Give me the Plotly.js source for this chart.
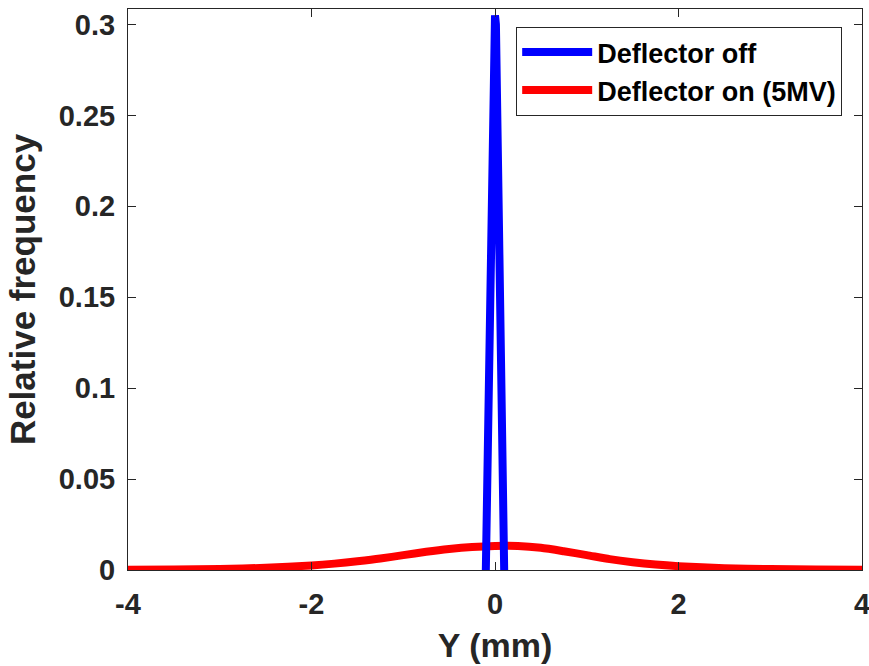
<!DOCTYPE html>
<html>
<head>
<meta charset="utf-8">
<script src="https://cdn.plot.ly/plotly-3.0.1.min.js"></script>
<style>html,body{margin:0;padding:0;background:#fff;}#chart{width:869px;height:666px;}</style>
</head>
<body>
<div id="chart"></div>
<script>
// Deflector off (narrow spike)
const offX = [-0.1, -0.01, 0.0, 0.01, 0.1];
const offY = [0.0, 0.300, 0.305, 0.300, 0.0];

// Deflector on (5MV) (broad distribution)
const onX = [-4, -3.5, -3, -2.5, -2, -1.75, -1.5, -1.25, -1, -0.75, -0.5, -0.25, 0, 0.25, 0.5, 0.75, 1, 1.25, 1.5, 1.75, 2, 2.5, 3, 3.5, 4];
const onY = [0.0002, 0.0003, 0.0005, 0.0012, 0.0025, 0.0035, 0.0048, 0.0063, 0.0082, 0.0100, 0.0115, 0.0126, 0.0132, 0.0132, 0.0122, 0.0103, 0.0082, 0.0060, 0.0043, 0.0030, 0.0021, 0.0010, 0.0005, 0.0003, 0.0002];

const xTicks = [-4, -2, 0, 2, 4];
const yTicks = [0, 0.05, 0.1, 0.15, 0.2, 0.25, 0.3];
const yTickText = ['0', '0.05', '0.1', '0.15', '0.2', '0.25', '0.3'];

const FONT = 'Liberation Sans, Arial, sans-serif';
const AX = '#262626';

const traces = [
  {x: onX, y: onY, mode: 'lines', name: 'Deflector on (5MV)',
   line: {color: '#ff0000', width: 8, shape: 'spline', smoothing: 0.6}},
  {x: offX, y: offY, mode: 'lines', name: 'Deflector off',
   line: {color: '#0000ff', width: 8}}
];

const axisCommon = {
  showgrid: false, zeroline: false, showline: true, linecolor: AX, linewidth: 1,
  mirror: 'ticks', ticks: 'inside', ticklen: 8, tickwidth: 1, tickcolor: AX,
  ticklabeloverflow: 'allow',
  tickfont: {family: FONT, size: 29, color: '#262626', weight: 'bold'}
};

const layout = {
  width: 869, height: 666,
  margin: {l: 128, r: 7, t: 9, b: 96},
  paper_bgcolor: '#ffffff', plot_bgcolor: '#ffffff',
  showlegend: true,
  legend: {
    x: 0.973, xanchor: 'right', y: 0.968, yanchor: 'top',
    bgcolor: '#ffffff', bordercolor: AX, borderwidth: 1,
    traceorder: 'reversed',
    font: {family: FONT, size: 27, color: '#000000', weight: 'bold'},
    itemwidth: 70, tracegroupgap: 0
  },
  xaxis: Object.assign({}, axisCommon, {
    range: [-4, 4], tickvals: xTicks, ticktext: xTicks.map(String),
    ticklabelstandoff: 8,
    title: {text: 'Y (mm)', font: {family: FONT, size: 34, color: '#262626', weight: 'bold'}, standoff: 14}
  }),
  yaxis: Object.assign({}, axisCommon, {
    range: [0, 0.3085], tickvals: yTicks, ticktext: yTickText,
    ticklabelstandoff: 6,
    title: {text: 'Relative frequency', font: {family: FONT, size: 35, color: '#262626', weight: 'bold'}, standoff: 12}
  })
};

Plotly.newPlot('chart', traces, layout, {displayModeBar: false, staticPlot: true});
</script>
</body>
</html>
